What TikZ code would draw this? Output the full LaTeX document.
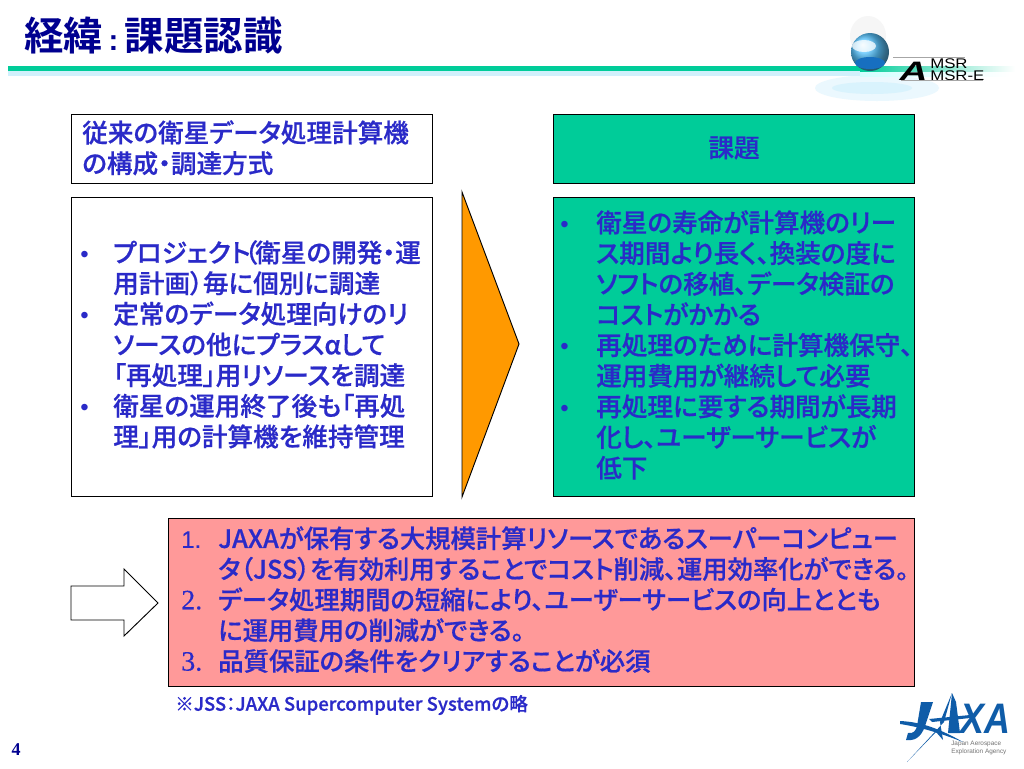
\documentclass[tikz,border=0pt]{standalone}
\usepackage{fontspec}
\setmainfont{Liberation Sans}
\newfontfamily\jp[RawFeature=+palt,FakeBold=0.6]{Noto Sans CJK JP Medium}
\newfontfamily\jpb[RawFeature=+palt]{Noto Sans CJK JP Bold}
\newfontfamily\serifn{Liberation Serif}
\newfontfamily\numfont[FakeBold=0.5]{Liberation Sans}
\newfontfamily\numserif[FakeBold=0.3]{Liberation Serif}
\usetikzlibrary{shadings}
\definecolor{txtblue}{HTML}{2A2AC8}
\definecolor{navy}{HTML}{000090}
\definecolor{teal}{HTML}{00CC99}
\definecolor{pinkbox}{HTML}{FF9999}
\definecolor{orangetri}{HTML}{FF9900}
\definecolor{jaxablue}{HTML}{0F5CA8}
\newcommand{\bul}[1]{\llap{\makebox[#1][l]{\rmfamily\fontsize{18}{23}\selectfont •}}}
\newcommand{\num}[1]{\llap{\makebox[27.75pt][l]{#1}}}
\newcommand{\numa}{\num{\numfont\fontsize{18}{23}\selectfont 1.}}
\newcommand{\numb}[1]{\num{\numserif\fontsize{21}{23}\selectfont #1.}}
\tikzset{
  x=0.75pt,y=-0.75pt,
  box/.style={draw=black,line width=0.7pt},
  body/.style={anchor=north west,inner sep=0pt,align=left,text=txtblue,font=\jp\fontsize{19.2}{23}\selectfont},
}
\begin{document}
\begin{tikzpicture}
\useasboundingbox (0,0) rectangle (1024,768);
\fill[white] (0,0) rectangle (1024,768);
% header rule
\fill[cyan!8] (877,88) ellipse (62 and 13);
\fill[cyan!15] (872,88) ellipse (40 and 6);
\fill[cyan!18] (8,71) rectangle (860,76);
\fill[left color=cyan!18,right color=white] (860,71) rectangle (1010,76);
\fill[teal] (8,66) rectangle (860,71);
\fill[left color=teal,right color=white] (860,66) rectangle (1015,71);
% AMSR logo
\fill[gray!7] (868,36) ellipse (18 and 20);
\shade[ball color=blue!35!cyan!70!white,opacity=0.95] (870,52) circle (19);
\fill[white,opacity=0.75] (864,46) ellipse (12 and 6);
\fill[cyan!50!blue] (870,63) ellipse (15 and 6);
\node (amsrA) at (913.5,71) [inner sep=0pt,font=\fontsize{20}{20}\selectfont\bfseries\itshape] {\scalebox{1.45}[1]{A}};
\node (amsrone) [anchor=west,inner sep=0pt,font=\fontsize{10.5}{11}\selectfont] at (930,63.5) {\scalebox{1.2}[1]{MSR}};
\node (amsrtwo) [anchor=west,inner sep=0pt,font=\fontsize{10.5}{11}\selectfont] at (930,75.5) {\scalebox{1.2}[1]{MSR-E}};
\draw[gray!70,line width=0.6pt] (893,57) -- (965,57);
\draw[gray!70,line width=0.6pt] (901,80.5) -- (983,80.5);
% title
\node (title) [anchor=west,inner sep=0pt,text=navy,font=\jpb\fontsize{29.6}{32}\selectfont] at (24,36) {経緯\hspace{4pt}{\rmfamily\bfseries\fontsize{22}{24}\selectfont :}\hspace{5pt}課題認識};
% boxes
\node (headl) [box,minimum width=271pt,minimum height=52pt,inner sep=0pt,anchor=north west] at (71,114) {};
\node (headltxt) [body,anchor=north west] at (82,120) {従来の衛星データ処理計算機\\の構成・調達方式};
\node (bodyl) [box,minimum width=271pt,minimum height=224.5pt,inner sep=0pt,anchor=north west] at (71,197) {};
\node (bodyltxt) [body] at (113,240) {\bul{24.75pt}プロジェクト\hspace{-4.5pt}（\hspace{-1.5pt}衛星の開発・運\\用計画）毎に個別に調達\\\bul{24.75pt}定常のデータ処理向けのリ\\ソースの他にプラスαして\\「再処理」用リソースを調達\\\bul{24.75pt}衛星の運用終了後も「再処\\理」用の計算機を維持管理};
\node (headr) [box,fill=teal,minimum width=271pt,minimum height=52pt,inner sep=0pt,anchor=north west] at (553,114) {};
\node (headrtxt) [inner sep=0pt,text=txtblue,font=\jp\fontsize{19.2}{23}\selectfont] at (734,148) {課題};
\node (bodyr) [box,fill=teal,minimum width=271pt,minimum height=224.5pt,inner sep=0pt,anchor=north west] at (553,197) {};
\node (bodyrtxt) [body] at (596,210) {\bul{27pt}衛星の寿命が計算機のリー\\ス期間より長く、換装の度に\\ソフトの移植、データ検証の\\コストがかかる\\\bul{27pt}再処理のために計算機保守、\\運用費用が継続して必要\\\bul{27pt}再処理に要する期間が長期\\化し、ユーザーサービスが\\低下};
% triangle
\draw[box,fill=orangetri] (462,192) -- (519,344) -- (462,497) -- cycle;
% block arrow
\draw[box,fill=white] (71,586) -- (124,586) -- (124,569) -- (158,603) -- (124,636) -- (124,620) -- (71,620) -- cycle;
% pink box
\node (pink) [box,fill=pinkbox,minimum width=559.75pt,minimum height=126.25pt,inner sep=0pt,anchor=north west] at (168,518) {};
\node (pinktxt) [body,font=\jp\fontsize{19}{23}\selectfont] at (218,526) {\numa JAXAが保有する大規模計算リソースであるスーパーコンピュー\\タ（JSS）を有効利用することでコスト削減、運用効率化ができる。\\\numb{2}データ処理期間の短縮により、ユーザーサービスの向上ととも\\に運用費用の削減ができる。\\\numb{3}品質保証の条件をクリアすることが必須};
\node (note) [anchor=west,inner sep=0pt,text=txtblue,font=\jp\fontsize{13.9}{16}\selectfont] at (175,705) {※JSS：JAXA Supercomputer Systemの略};
% page number
\node (page) [inner sep=0pt,text=navy,font=\serifn\bfseries\fontsize{13.5}{14}\selectfont] at (16,750) {4};
% JAXA logo
\node (jaxa) [anchor=base west,inner sep=0pt,text=jaxablue,font=\fontsize{32}{34}\selectfont\bfseries\itshape] at (960,733) {\scalebox{0.84}[1]{XA}};
\fill[jaxablue] (921,702) -- (933,702) -- (925,726) .. controls (921,738) and (914,741) .. (906,740) -- (908,733) .. controls (914,734) and (916,730) .. (917,726) -- cycle;
\fill[jaxablue] (952,693) -- (948,733) -- (960,733) -- (956,702) -- cycle;
\fill[jaxablue] (900,721) .. controls (922,722) and (940,729) .. (963,742) .. controls (940,733) and (920,727) .. (900,724) -- cycle;
\fill[jaxablue] (907,762) -- (944,722) -- (952,693) -- (940,722) -- (943,740) -- (936,732) -- cycle;
\fill[jaxablue] (929,719) -- (970,715) -- (970,718) -- (932,722) -- cycle;
\node (jaxatxt) [anchor=north west,inner sep=0pt,align=left,text=gray!90!black,font=\fontsize{4.8}{6}\selectfont] at (951,741) {Japan Aerospace\\Exploration Agency};
\end{tikzpicture}
\end{document}
